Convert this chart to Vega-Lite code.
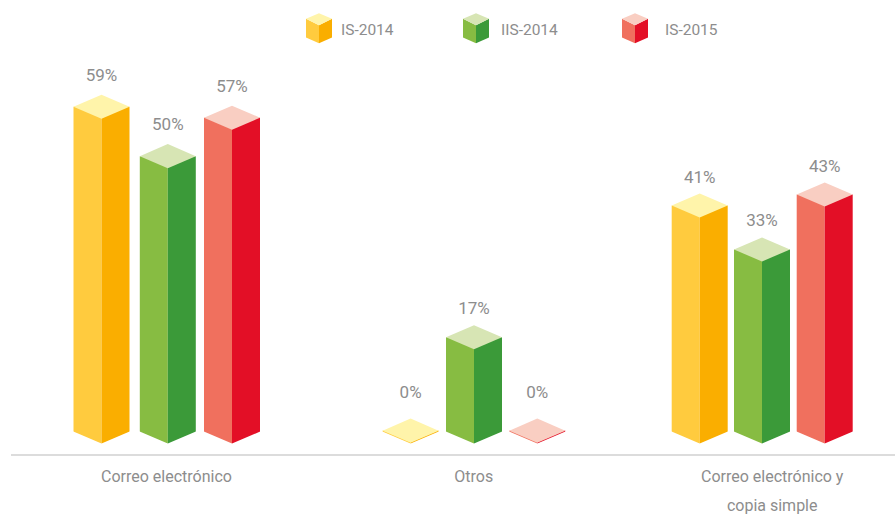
{
"$schema":"https://vega.github.io/schema/vega-lite/v6.json",
"width":884,"height":455,
"autosize":{"type":"none"},
"padding":{"left":11,"top":0,"right":0,"bottom":60},
"background":"white",
"config":{"view":{"stroke":null},"text":{"font":"Roboto","fontSize":17,"fill":"#8d8d8d"}},
"datasets":{
"barras":[
{"orden":1,"canal":"Correo electrónico","periodo":"IS-2014","valor":0.59},
{"orden":2,"canal":"Correo electrónico","periodo":"IIS-2014","valor":0.50},
{"orden":3,"canal":"Correo electrónico","periodo":"IS-2015","valor":0.57},
{"orden":4,"canal":"Otros","periodo":"IS-2014","valor":0},
{"orden":5,"canal":"Otros","periodo":"IIS-2014","valor":0.17},
{"orden":6,"canal":"Otros","periodo":"IS-2015","valor":0},
{"orden":7,"canal":"Correo electrónico y copia simple","periodo":"IS-2014","valor":0.41},
{"orden":8,"canal":"Correo electrónico y copia simple","periodo":"IIS-2014","valor":0.33},
{"orden":9,"canal":"Correo electrónico y copia simple","periodo":"IS-2015","valor":0.43}
],
"canales":[{"grupo":1,"canal":"Correo electrónico"},{"grupo":2,"canal":"Otros"},{"grupo":3,"canal":"Correo electrónico y copia simple"}],
"periodos":[{"n":1,"periodo":"IS-2014"},{"n":2,"periodo":"IIS-2014"},{"n":3,"periodo":"IS-2015"}]
},
"data":{"name":"barras"},
"resolve":{"scale":{"x":"independent","fill":"independent"}},
"layer":[
{"mark":{"type":"rule","stroke":"#dcdcdc","strokeWidth":2},"encoding":{"y":{"datum":-0.0444,"axis":null,"scale":{"domain":[-0.0444,0.7844],"nice":false,"zero":false}}}},
{"data":{"name":"canales"},"mark":{"type":"point","opacity":0},"encoding":{"y":{"datum":0,"axis":null},
 "x":{"field":"grupo","type":"quantitative","title":null,
  "scale":{"domain":[1,2,3],"range":[155,462.3,760.7],"nice":false,"zero":false,"padding":0},
  "axis":{"orient":"bottom","values":[1,2,3],"domain":false,"ticks":false,"labelAngle":0,"labelFont":"Roboto","labelFontSize":16,"labelColor":"#8d8d8d","labelPadding":13,"labelLimit":400,"labelLineHeight":29,"labelOverlap":false,"grid":false,"labelFlush":false,
   "labelExpr":"datum.value===1?'Correo electrónico':datum.value===2?'Otros':['Correo electrónico y','copia simple']"}}}},
{"mark":{"type":"bar","width":28,"xOffset":-14},"encoding":{
 "x":{"field":"orden","type":"quantitative","axis":null,"scale":{"domain":[1,2,3,4,5,6,7,8,9],"range":[90.5,156.8,221,399.6,463,526.3,688.7,751,813.7],"nice":false,"zero":false,"padding":0}},
 "y":{"field":"valor","type":"quantitative","axis":null},
 "y2":{"datum":-0.026},
 "fill":{"field":"periodo","type":"nominal","legend":null,"scale":{"domain":["IS-2014","IIS-2014","IS-2015"],"range":["#FFCB3E","#87BC42","#F0705E"]}}}},
{"mark":{"type":"bar","width":28,"xOffset":14},"encoding":{
 "x":{"field":"orden","type":"quantitative","axis":null,"scale":{"domain":[1,2,3,4,5,6,7,8,9],"range":[90.5,156.8,221,399.6,463,526.3,688.7,751,813.7],"nice":false,"zero":false,"padding":0}},
 "y":{"field":"valor","type":"quantitative","axis":null},
 "y2":{"datum":-0.026},
 "fill":{"field":"periodo","type":"nominal","legend":null,"scale":{"domain":["IS-2014","IIS-2014","IS-2015"],"range":["#FAAE00","#3B9A39","#E30F26"]}}}},
{"mark":{"type":"point","filled":true,"fill":"white","opacity":1,"strokeWidth":0,"size":3364,"shape":"M-1.03,-0.44L0,0L1.03,-0.44L1.03,0.2L-1.03,0.2Z"},"encoding":{
 "x":{"field":"orden","type":"quantitative","axis":null,"scale":{"domain":[1,2,3,4,5,6,7,8,9],"range":[90.5,156.8,221,399.6,463,526.3,688.7,751,813.7],"nice":false,"zero":false,"padding":0}},
 "y":{"datum":-0.0235,"axis":null}}},
{"mark":{"type":"point","filled":true,"opacity":1,"strokeWidth":0,"size":3136,"shape":"M-1,0L0,-0.43L1,0L0,0.43Z"},"encoding":{
 "x":{"field":"orden","type":"quantitative","axis":null,"scale":{"domain":[1,2,3,4,5,6,7,8,9],"range":[90.5,156.8,221,399.6,463,526.3,688.7,751,813.7],"nice":false,"zero":false,"padding":0}},
 "y":{"field":"valor","type":"quantitative","axis":null},
 "fill":{"field":"periodo","type":"nominal","legend":null,"scale":{"domain":["IS-2014","IIS-2014","IS-2015"],"range":["#FFF4AA","#D7E5B4","#F9CEC2"]}}}},
{"mark":{"type":"text","align":"center","baseline":"middle","dy":{"expr":"datum.valor===0?-38:(datum.canal==='Correo electrónico'?-31:-28)"}},"encoding":{
 "x":{"field":"orden","type":"quantitative","axis":null,"scale":{"domain":[1,2,3,4,5,6,7,8,9],"range":[90.5,156.8,221,399.6,463,526.3,688.7,751,813.7],"nice":false,"zero":false,"padding":0}},
 "y":{"field":"valor","type":"quantitative","axis":null},
 "text":{"field":"valor","type":"quantitative","format":".0%"}}},
{"data":{"name":"periodos"},"mark":{"type":"point","filled":true,"opacity":1,"strokeWidth":0,"size":676,"shape":"M-1,-0.72L0,-0.22L0,1.15L-1,0.72Z"},"encoding":{
 "x":{"field":"n","type":"quantitative","axis":null,"scale":{"domain":[1,2,3],"range":[308,465,624],"nice":false,"zero":false,"padding":0}},
 "y":{"datum":0.733,"axis":null},
 "fill":{"field":"periodo","type":"nominal","legend":null,"scale":{"domain":["IS-2014","IIS-2014","IS-2015"],"range":["#FFCB3E","#87BC42","#F0705E"]}}}},
{"data":{"name":"periodos"},"mark":{"type":"point","filled":true,"opacity":1,"strokeWidth":0,"size":676,"shape":"M1,-0.72L0,-0.22L0,1.15L1,0.72Z"},"encoding":{
 "x":{"field":"n","type":"quantitative","axis":null,"scale":{"domain":[1,2,3],"range":[308,465,624],"nice":false,"zero":false,"padding":0}},
 "y":{"datum":0.733,"axis":null},
 "fill":{"field":"periodo","type":"nominal","legend":null,"scale":{"domain":["IS-2014","IIS-2014","IS-2015"],"range":["#FAAE00","#3B9A39","#E30F26"]}}}},
{"data":{"name":"periodos"},"mark":{"type":"point","filled":true,"opacity":1,"strokeWidth":0,"size":676,"shape":"M-1,-0.72L0,-1.15L1,-0.72L0,-0.22Z"},"encoding":{
 "x":{"field":"n","type":"quantitative","axis":null,"scale":{"domain":[1,2,3],"range":[308,465,624],"nice":false,"zero":false,"padding":0}},
 "y":{"datum":0.733,"axis":null},
 "fill":{"field":"periodo","type":"nominal","legend":null,"scale":{"domain":["IS-2014","IIS-2014","IS-2015"],"range":["#FFF4AA","#D7E5B4","#F9CEC2"]}}}},
{"data":{"name":"periodos"},"mark":{"type":"text","align":"left","baseline":"middle","fontSize":15.5},"encoding":{
 "x":{"field":"n","type":"quantitative","axis":null,"scale":{"domain":[1,2,3],"range":[330,490,654],"nice":false,"zero":false,"padding":0}},
 "y":{"datum":0.729,"axis":null},
 "text":{"field":"periodo","type":"nominal"}}}
]
}
